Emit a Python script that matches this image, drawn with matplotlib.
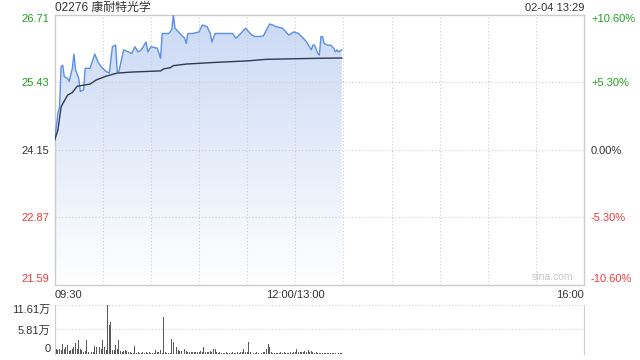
import numpy as np
import matplotlib
matplotlib.use('Agg')
from matplotlib import pyplot as plt
from matplotlib.patches import PathPatch

plt.rcParams['font.family'] = ['Liberation Sans', 'Noto Sans CJK SC', 'DejaVu Sans']

# price (minutes from 09:30, lunch break collapsed)
price_min = [0, 2, 3, 4, 5, 6, 8, 9, 11, 12, 13, 15, 16, 18, 19, 22, 25, 27, 29, 32,
             34, 36, 38, 39, 40, 43, 46, 48, 50, 52, 54, 57, 58, 60, 64, 66, 67, 71, 73, 74,
             75, 79, 81, 82, 83, 86, 90, 92, 95, 97, 98, 100, 111, 113, 115, 119, 121, 123, 125, 130,
             134, 136, 138, 142, 146, 149, 152, 155, 157, 160, 161, 162, 164, 165, 166, 167, 168, 170, 172, 174,
             175, 176, 177, 179]
price = [24.33, 24.84, 24.96, 25.72, 25.75, 25.53, 25.50, 25.44, 25.69, 25.96, 25.66, 25.50, 25.25, 25.28, 25.69, 25.69, 25.96, 25.81, 25.72, 25.63,
         25.60, 26.10, 26.13, 25.63, 25.63, 26.04, 26.00, 25.97, 26.10, 26.00, 26.04, 26.19, 26.00, 26.10, 26.07, 25.88, 26.35, 26.35, 26.42, 26.70,
         26.45, 26.32, 26.26, 26.16, 26.35, 26.35, 26.38, 26.51, 26.48, 26.35, 26.19, 26.35, 26.35, 26.26, 26.32, 26.45, 26.38, 26.32, 26.29, 26.30,
         26.53, 26.51, 26.48, 26.45, 26.32, 26.38, 26.35, 26.26, 26.19, 26.04, 26.13, 26.13, 25.97, 25.94, 26.29, 26.29, 26.16, 26.13, 26.13, 26.07,
         26.00, 26.04, 26.00, 26.04]

avg_min = [0, 2, 4, 8, 11, 14, 22, 26, 32, 39, 49, 66, 68, 72, 74, 82, 99, 120, 132, 165, 179]
avg_price = [24.33, 24.52, 24.96, 25.18, 25.23, 25.35, 25.39, 25.47, 25.54, 25.60, 25.62, 25.64, 25.68, 25.70, 25.74,
             25.77, 25.80, 25.83, 25.86, 25.88, 25.885]

# volume, 万 shares per minute
volume = [1.7, 1.1, 0.95, 1.3, 1.0, 2.4, 1.1, 1.7, 2.1, 0.8, 0.95, 1.1, 1.7, 2.5, 1.2, 3.2, 1.1, 0.95, 0.55, 0.6,
          3.2, 0.55, 0.4, 0.55, 0.5, 1.9, 1.7, 1.5, 1.7, 1.3, 3.4, 1.7, 1.0, 11.61, 6.9, 7.5, 1.0, 0.95, 2.1, 1.3,
          3.4, 0.8, 0.55, 0.7, 0.95, 0.8, 0.55, 0.4, 0.3, 0.3, 1.9, 0.3, 0.4, 0.3, 0.3, 0.4, 0.3, 0.5, 0.3, 0.5,
          0.3, 0.3, 0.3, 0.95, 0.4, 0.55, 0.95, 0.3, 8.8, 0.5, 0.3, 0.3, 0.3, 3.55, 2.9, 0.8, 1.7, 0.95, 0.7, 0.8,
          0.5, 1.3, 0.7, 0.5, 0.5, 0.55, 0.4, 0.4, 0.5, 0.5, 0.4, 0.8, 0.5, 1.7, 0.55, 0.4, 0.4, 0.7, 0.5, 1.1,
          1.3, 0.5, 0.3, 0.4, 0.3, 0.3, 0.3, 0.4, 0.3, 0.3, 0.3, 0.4, 0.3, 0.3, 0.4, 0.3, 0.4, 0.4, 1.3, 0.4,
          0.55, 2.9, 0.55, 0.3, 0.3, 0.3, 0.4, 0.3, 0.4, 0.3, 0.55, 0.4, 1.3, 2.3, 1.7, 0.55, 0.3, 0.3, 0.3, 0.3,
          0.3, 0.4, 0.3, 0.4, 0.3, 0.3, 0.3, 0.5, 0.3, 0.5, 0.5, 1.3, 0.55, 0.4, 0.5, 0.55, 0.7, 0.5, 0.95, 0.55,
          0.7, 0.5, 0.3, 0.4, 0.3, 0.3, 0.3, 0.25, 0.3, 0.3, 0.25, 0.3, 0.3, 0.25, 0.3, 0.3, 0.25, 0.3, 0.3, 0.25]

price_ticks = [21.59, 22.87, 24.15, 25.43, 26.71]
pct_labels = ['-10.60%', '-5.30%', '0.00%', '+5.30%', '+10.60%']
vol_ticks = [0, 5.81, 11.61]
vol_labels = ['0', '5.81万', '11.61万']
time_ticks = [0, 150, 330]
time_labels = ['09:30', '12:00/13:00', '16:00']

GREEN = '#1ea01e'
RED = '#ee3a3a'
DARK = '#333333'
GRID = '#cccccc'
label_colors = [RED, RED, DARK, GREEN, GREEN]

fig = plt.figure(figsize=(6.4, 3.6), dpi=100)
ax = fig.add_axes([54.7 / 640, 1 - 284.5 / 360, 529.3 / 640, 270 / 360])
ax.set_xlim(0, 330)
ax.set_ylim(price_ticks[0], price_ticks[-1])

# gradient fill under price line
fill = ax.fill_between(price_min, price, price_ticks[0], color='none', lw=0)
grad = np.linspace(0, 1, 256).reshape(-1, 1)
top_c = np.array([0.79, 0.85, 0.96])
bot_c = np.array([1.0, 1.0, 1.0])
img = top_c * (1 - grad[..., None]) + bot_c * grad[..., None]
im = ax.imshow(img, extent=[0, 330, price_ticks[0], price_ticks[-1]], aspect='auto', zorder=1,
               origin='upper')
path = fill.get_paths()[0]
patch = PathPatch(path, transform=ax.transData, facecolor='none', edgecolor='none')
ax.add_patch(patch)
im.set_clip_path(patch)

ax.plot(price_min, price, color='#5b8fe6', lw=1.0, zorder=3)
ax.plot(avg_min, avg_price, color='#2f3a4c', lw=1.0, zorder=3)

for t in range(30, 330, 30):
    ax.axvline(t, color=GRID, lw=0.8, ls=(0, (1, 2)), zorder=2)
for p in price_ticks[1:-1]:
    ax.axhline(p, color=GRID, lw=0.8, ls=(0, (1, 2)), zorder=2)

for s in ax.spines.values():
    s.set_color(GRID)
    s.set_linewidth(1)

ax.set_yticks(price_ticks)
ax.set_yticklabels([f'{p:.2f}' for p in price_ticks])
ax.tick_params(axis='y', length=0, pad=4, labelsize=8)
for lbl, c in zip(ax.get_yticklabels(), label_colors):
    lbl.set_color(c)
ax.get_yticklabels()[0].set_va('bottom')
ax.get_yticklabels()[-1].set_va('top')

ax.set_xticks(time_ticks)
ax.set_xticklabels(time_labels)
ax.tick_params(axis='x', length=0, pad=4, labelsize=8, labelcolor=DARK)
ax.get_xticklabels()[0].set_ha('left')
ax.get_xticklabels()[-1].set_ha('right')

ax2 = ax.twinx()
ax2.set_ylim(ax.get_ylim())
ax2.set_yticks(price_ticks)
ax2.set_yticklabels(pct_labels)
ax2.tick_params(axis='y', length=0, pad=5, labelsize=8)
for lbl, c in zip(ax2.get_yticklabels(), label_colors):
    lbl.set_color(c)
ax2.get_yticklabels()[0].set_va('bottom')
ax2.get_yticklabels()[-1].set_va('top')
for s in ax2.spines.values():
    s.set_visible(False)

ax.text(0.98, 0.008, 'sina.com', transform=ax.transAxes, ha='right', va='bottom',
        color='#c8c8c8', fontsize=7.5)

fig.text(55 / 640, 1 - 7.5 / 360, '02276 康耐特光学', ha='left', va='center',
         fontsize=8.6, color=DARK)
fig.text(584 / 640, 1 - 8 / 360, '02-04 13:29', ha='right', va='center',
         fontsize=8, color=DARK)

# volume panel
vax = fig.add_axes([54.7 / 640, 1 - 354 / 360, 529.3 / 640, 49 / 360])
vax.set_xlim(0, 330)
vax.set_ylim(0, vol_ticks[-1])
vax.bar(np.arange(len(volume)), volume, width=0.6, color='#5a5a5a', zorder=3)
for v in vol_ticks:
    vax.axhline(v, color=GRID, lw=0.8, ls=(0, (1, 2)), zorder=2)
vax.spines['top'].set_visible(False)
vax.spines['bottom'].set_visible(False)
vax.spines['left'].set_color(GRID)
vax.spines['right'].set_color(GRID)
vax.set_xticks([])
vax.set_yticks(vol_ticks)
vax.set_yticklabels(vol_labels)
vax.tick_params(axis='y', length=0, pad=3, labelsize=8, labelcolor=DARK)
vax.get_yticklabels()[0].set_va('bottom')
vax.get_yticklabels()[-1].set_va('top')

fig.savefig('out.png', dpi=100)
